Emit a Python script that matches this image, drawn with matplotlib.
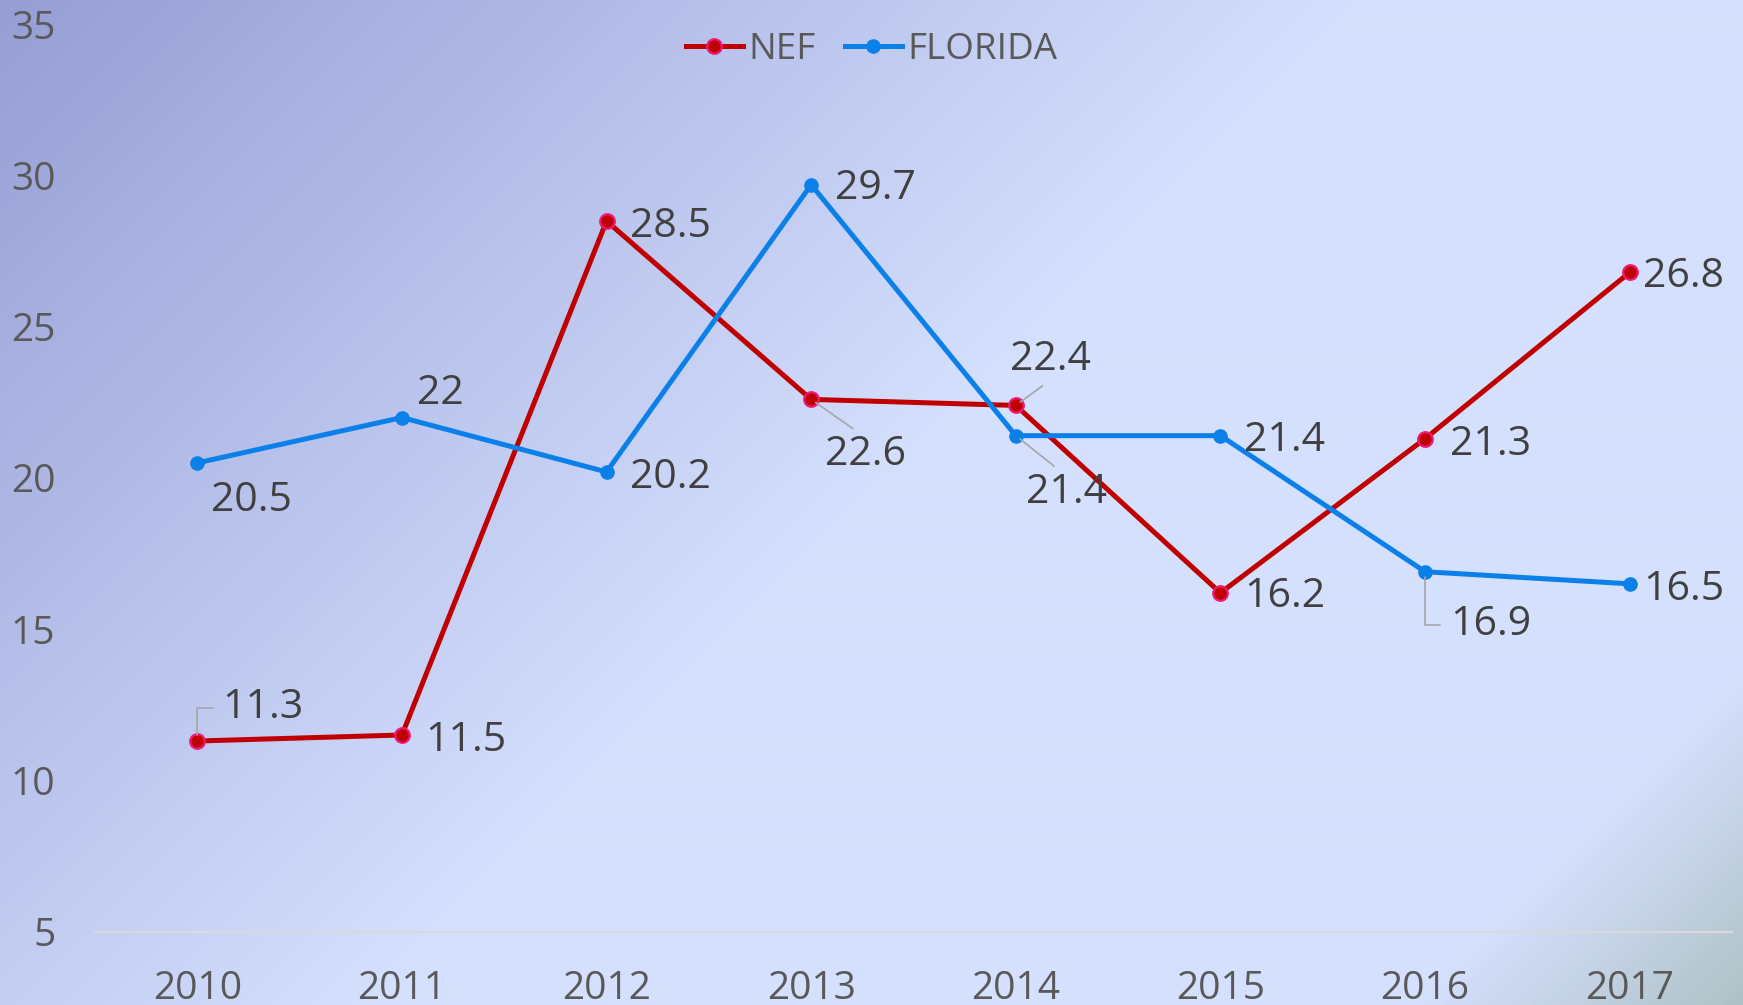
import numpy as np
import matplotlib
matplotlib.use('Agg')
import matplotlib.pyplot as plt
from matplotlib.colors import LinearSegmentedColormap

plt.rcParams['font.family'] = ['Open Sans', 'DejaVu Sans']

# data
years = ['2010', '2011', '2012', '2013', '2014', '2015', '2016', '2017']
nef = [11.3, 11.5, 28.5, 22.6, 22.4, 16.2, 21.3, 26.8]
florida = [20.5, 22, 20.2, 29.7, 21.4, 21.4, 16.9, 16.5]
yticks = [5, 10, 15, 20, 25, 30, 35]

# label offsets in points (dx, dy) and leader lines
nef_off = [(18, 24), (17, -4), (17, -4), (10, -40), (-4, 33), (17, -3), (18, -4), (9.5, -3)]
fl_off = [(10, -27), (11, 17), (17, -4), (17, -3), (7, -41), (17, -4), (18, -38), (9.5, -4)]
nef_lead = [('elbow', (0, 0.5)), None, None, ('line', (0.45, 1)), ('line', (0.5, 0)), None, None, None]
fl_lead = [None, None, None, None, ('line', (0.45, 1)), None, ('elbow', (0, 0.5)), None]

W, H = 1743, 1005
fig = plt.figure(figsize=(W / 100, H / 100), dpi=100)

# background gradient, top-left lavender -> light blue -> grey corner
bg = fig.add_axes([0, 0, 1, 1], zorder=-10)
yy, xx = np.mgrid[0:H, 0:W]
t = (xx + yy) / (W + H)
cmap = LinearSegmentedColormap.from_list('bg', [
    (0.0, (150/255, 158/255, 212/255)),
    (0.5, (213/255, 224/255, 254/255)),
    (0.88, (213/255, 224/255, 254/255)),
    (1.0, (176/255, 194/255, 198/255)),
])
bg.imshow(cmap(t), aspect='auto', extent=[0, 1, 0, 1], origin='upper', interpolation='bilinear')
bg.set_axis_off()

ax = fig.add_axes([95/W, 1 - 931.5/H, (1732 - 95)/W, (931.5 - 24.5)/H])
ax.set_facecolor('none')

x = np.arange(len(years))
ax.plot(x, nef, color='#C00000', lw=3.6, marker='o', ms=10.5, mfc='#C00000', mec='#EE1A78', mew=1.6,
        label='NEF', zorder=3)
ax.plot(x, florida, color='#0B80E8', lw=3.6, marker='o', ms=9.5, mfc='#0B80E8', mec='#0B80E8',
        label='FLORIDA', zorder=4)


def add_labels(vals, offs, leads):
    for i, v in enumerate(vals):
        arrow = None
        if leads[i] is not None:
            kind, rp = leads[i]
            if kind == 'elbow':
                arrow = dict(arrowstyle='-', color='#A6A6A6', lw=1.2, relpos=rp, shrinkA=5, shrinkB=4,
                             connectionstyle='angle,angleA=0,angleB=90,rad=0')
            else:
                arrow = dict(arrowstyle='-', color='#A6A6A6', lw=1.2, relpos=rp, shrinkA=4, shrinkB=4)
        ax.annotate(f'{v:g}', (x[i], v), xytext=offs[i], textcoords='offset points',
                    ha='left', va='center', fontsize=29.5, color='#404040',
                    arrowprops=arrow, zorder=5)


add_labels(nef, nef_off, nef_lead)
add_labels(florida, fl_off, fl_lead)

ax.set_xlim(-0.5, len(years) - 0.5)
ax.set_ylim(5, 35)
ax.set_xticks(x)
ax.set_xticklabels(years)
ax.set_yticks(yticks)
ax.tick_params(axis='both', length=0, labelsize=28, labelcolor='#595959')
ax.tick_params(axis='y', pad=28.5)
ax.tick_params(axis='x', pad=28)
for s in ['top', 'right', 'left']:
    ax.spines[s].set_visible(False)
ax.spines['bottom'].set_color('#D9D9D9')
ax.spines['bottom'].set_linewidth(1.5)

fig.legend(loc='center', bbox_to_anchor=(0.5, 1 - 50/H), ncol=2, frameon=False, fontsize=26.5,
           handlelength=1.55, handletextpad=0.15, columnspacing=0.8, labelcolor='#595959')

fig.savefig('out.png', dpi=100)
